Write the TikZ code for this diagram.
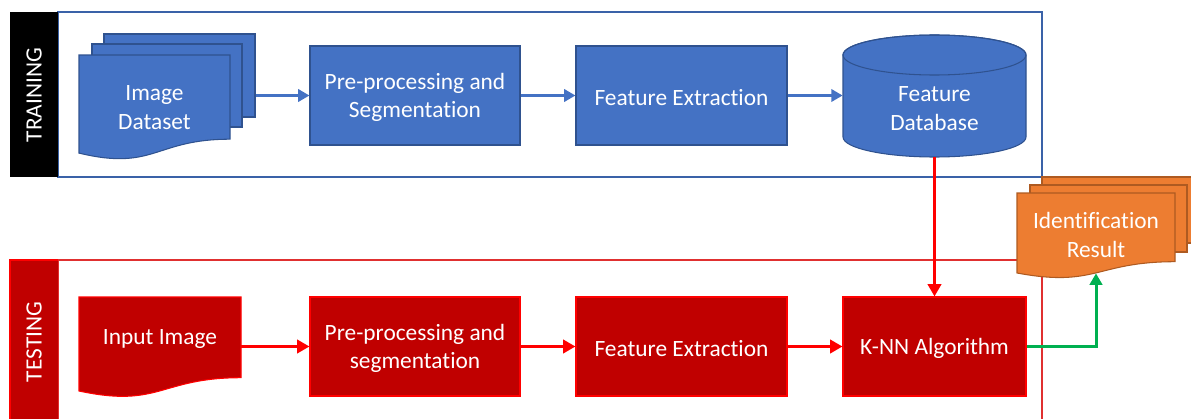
\documentclass[tikz,border=0pt]{standalone}
\usepackage{fontspec}
\setmainfont{Carlito}[Ligatures=NoCommon]
\usetikzlibrary{arrows.meta}
\definecolor{bfill}{HTML}{4472C4}
\definecolor{bline}{HTML}{2F528F}
\definecolor{rfill}{HTML}{C00000}
\definecolor{rline}{HTML}{FF0000}
\definecolor{ofill}{HTML}{ED7D31}
\definecolor{oline}{HTML}{AE5A21}
\definecolor{gline}{HTML}{00B050}
\definecolor{frameblue}{HTML}{3A62A8}
\definecolor{framered}{HTML}{E03030}
\tikzset{
  txt/.style={text=white, font=\fontsize{13.3}{16.2}\selectfont, align=center, inner sep=0pt},
  bbox/.style={txt, fill=bfill, draw=bline, line width=0.6pt},
  rbox/.style={txt, fill=rfill, draw=rline, line width=0.6pt},
  bpage/.style={fill=bfill, draw=bline, line width=0.6pt, inner sep=0pt},
  opage/.style={fill=ofill, draw=oline, line width=0.6pt, inner sep=0pt},
  barrow/.style={draw=bfill, line width=1.7pt, -{Triangle[length=6.5pt,width=7pt]}},
  rarrow/.style={draw=rline, line width=1.7pt, -{Triangle[length=7pt,width=7.5pt]}},
  garrow/.style={draw=gline, line width=1.7pt, -{Triangle[length=6.5pt,width=7pt]}},
  strip/.style={txt, rotate=90},
}
\begin{document}
\begin{tikzpicture}[x=0.02cm,y=-0.02cm]
\useasboundingbox (0,0) rectangle (1191,419);
% frames
\draw[frameblue, line width=0.6pt] (58,12) rectangle (1042,177);
\fill[black] (10,12) rectangle (58,177);
\node[strip] (trn) at (34,95) {TRAINING};
\draw[framered, line width=0.6pt] (58,260) rectangle (1042,440);
\fill[rfill] (10,260) rectangle (58,440);
\draw[rline, line width=0.6pt] (58,260) -- (10,260) -- (10,440);
\node[strip] (tst) at (34,342) {TESTING};

% image dataset (multi document)
\node[bpage, minimum width=3.02cm, minimum height=1.66cm] (ds3) at (179.5,75.5) {};
\node[bpage, minimum width=3.0cm, minimum height=1.66cm] (ds2) at (167,85.5) {};
\filldraw[fill=bfill, draw=bline, line width=0.6pt] (79,55) -- (230,55) -- (230,139.2)
  .. controls (154.5,139.2) and (154.5,171.3) .. (79,153.1) -- cycle;
\node[txt, minimum width=3.02cm] (ds1) at (154.5,107.5) {Image\\Dataset};

% training boxes
\node[bbox, minimum width=4.2cm, minimum height=1.98cm] (pre1) at (415,95.5) {};
\node[txt] (pre1t) at (415,97.5) {Pre-processing and\\Segmentation};
\node[bbox, minimum width=4.22cm, minimum height=1.98cm] (fe1) at (681.5,95.5) {};
\node[txt] (fe1t) at (681.5,97.5) {Feature Extraction};

% database cylinder
\node[minimum width=3.66cm, minimum height=2.44cm, inner sep=0pt] (db) at (934.5,96) {};
\filldraw[fill=bfill, draw=bline, line width=0.6pt] (843,55) -- (843,137) arc (180:0:91.5 and 20) -- (1026,55) arc (0:-180:91.5 and 20) -- cycle;
\draw[bline, line width=0.6pt] (934.5,55) ellipse (91.5 and 20);
\node[txt] (dbt) at (934.5,108.5) {Feature\\Database};

% testing row
\filldraw[fill=rfill, draw=rline, line width=0.6pt] (79,297) -- (241,297) -- (241,377.7)
  .. controls (160,377.7) and (160,408.4) .. (79,391) -- cycle;
\node[txt, minimum width=3.24cm] (inp) at (160,339.5) {Input Image};
\node[rbox, minimum width=4.2cm, minimum height=1.98cm] (pre2) at (415,346.5) {};
\node[txt] (pre2t) at (415,348.5) {Pre-processing and\\segmentation};
\node[rbox, minimum width=4.22cm, minimum height=1.98cm] (fe2) at (681.5,346.5) {};
\node[txt] (fe2t) at (681.5,348.5) {Feature Extraction};
\node[rbox, minimum width=3.66cm, minimum height=1.98cm] (knn) at (934.5,346.5) {};
\node[txt] (knnt) at (934.5,348.5) {K-NN Algorithm};

% identification result
\node[opage, minimum width=3.16cm, minimum height=1.32cm] (r3) at (1121,210) {};
\node[opage, minimum width=3.14cm, minimum height=1.34cm] (r2) at (1108.5,218.5) {};
\filldraw[fill=ofill, draw=oline, line width=0.6pt] (1017,193) -- (1175,193) -- (1175,261.7)
  .. controls (1096,261.7) and (1096,287.8) .. (1017,273) -- cycle;
\node[minimum width=3.16cm, minimum height=1.6cm, inner sep=0pt] (res) at (1096,233) {};
\node[txt] (rest) at (1096,235) {Identification\\Result};

% connectors
\draw[barrow] (pre1.west -| ds3.east) -- (pre1.west);
\draw[barrow] (pre1.east) -- (fe1.west);
\draw[barrow] (fe1.east) -- (fe1.east -| db.west);
\draw[rarrow] (db.south) -- (knn.north);
\draw[rarrow] (pre2.west -| inp.east) -- (pre2.west);
\draw[rarrow] (pre2.east) -- (fe2.west);
\draw[rarrow] (fe2.east) -- (knn.west);
\draw[garrow] (knn.east) -| (res.south);
\end{tikzpicture}
\end{document}
